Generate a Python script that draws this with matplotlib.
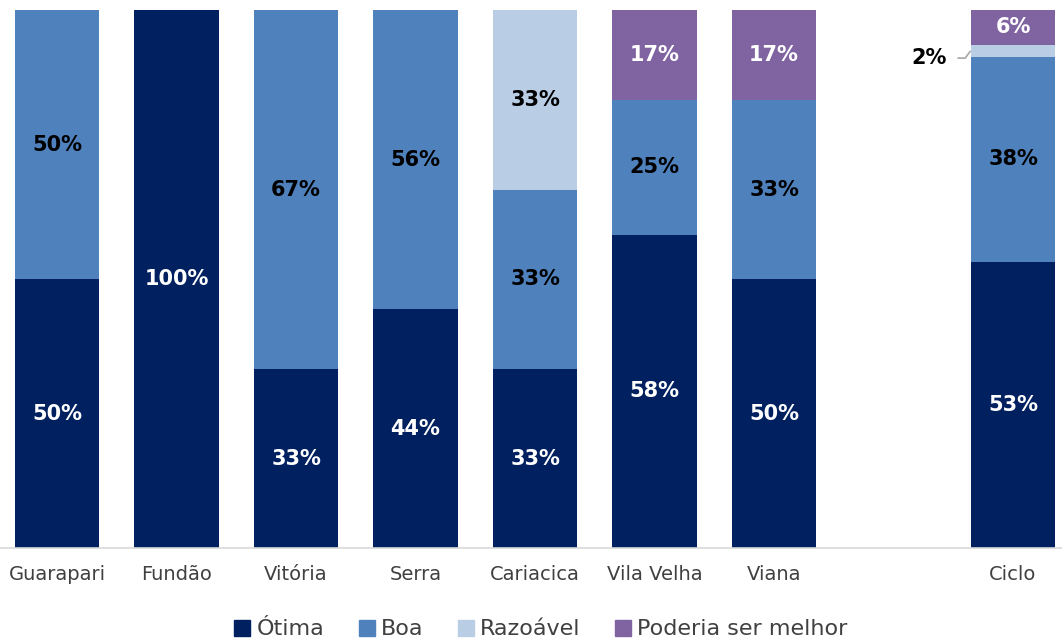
import numpy as np
import matplotlib.pyplot as plt
from matplotlib.lines import Line2D

categories = ["Guarapari", "Fundão", "Vitória", "Serra", "Cariacica",
              "Vila Velha", "Viana", "", "Ciclo"]
otima = [50.0, 100.0, 33.3, 44.4, 33.3, 58.3, 50.0, 0, 53.2]
boa = [50.0, 0, 66.7, 55.6, 33.3, 25.0, 33.3, 0, 38.1]
razoavel = [0, 0, 0, 0, 33.4, 0, 0, 0, 2.3]
poderia = [0, 0, 0, 0, 0, 16.7, 16.7, 0, 6.4]

series = [("Ótima", otima, "#002060", "white"),
          ("Boa", boa, "#4F81BD", "black"),
          ("Razoável", razoavel, "#B9CDE5", "black"),
          ("Poderia ser melhor", poderia, "#8064A2", "white")]

plt.rcParams["font.family"] = ["DejaVu Sans"]

fig = plt.figure(figsize=(10.62, 6.41), dpi=100)
ax = fig.add_axes([0, 0.145, 1, 0.839])

width = 0.71
x = np.arange(len(categories))
bottom = np.zeros(len(categories))
for name, vals, color, tcolor in series:
    vals = np.array(vals)
    ax.bar(x, vals, width, bottom=bottom, color=color, label=name)
    for i, v in enumerate(vals):
        if v <= 0:
            continue
        if v < 4:
            # small slice: label outside with a leader line
            yc = bottom[i] + v / 2
            ylab = bottom[i] - 0.2
            edge = x[i] - width / 2
            ax.plot([edge - 0.11, edge - 0.045, edge], [ylab, ylab, yc],
                    color="#A6A6A6", lw=1.2, solid_capstyle="butt")
            ax.text(edge - 0.2, ylab, f"{v:.0f}%", ha="right", va="center",
                    fontsize=15, fontweight="bold", color="black")
        else:
            ax.text(x[i], bottom[i] + v / 2, f"{v:.0f}%", ha="center", va="center",
                    fontsize=15, fontweight="bold", color=tcolor)
    bottom += vals

ax.set_xlim(-0.477, 8.41)
ax.set_ylim(0, 100)
ax.set_xticks(x)
ax.set_xticklabels(categories, fontsize=14, color="#404040")
ax.tick_params(axis="x", length=0, pad=12)
ax.set_yticks([])
for s in ["top", "right", "left"]:
    ax.spines[s].set_visible(False)
ax.spines["bottom"].set_color("#D9D9D9")
ax.spines["bottom"].set_linewidth(1.2)

handles = [Line2D([], [], marker="s", linestyle="none", markersize=11,
                  color=c, label=n) for n, _, c, _ in series]
leg = fig.legend(handles=handles, loc="center", bbox_to_anchor=(0.508, 0.018),
                 ncol=4, frameon=False, fontsize=16, handletextpad=0.15,
                 columnspacing=1.4, handlelength=1.0)
for t in leg.get_texts():
    t.set_color("#404040")

fig.savefig("out.png", dpi=100)
